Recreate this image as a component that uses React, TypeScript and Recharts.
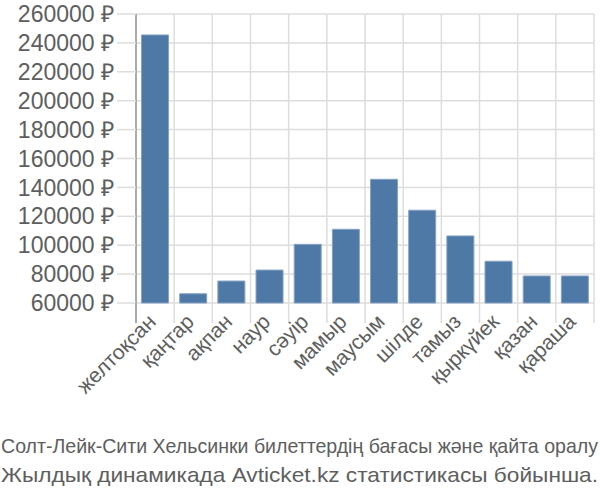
import React from 'react'
import { BarChart, Bar, XAxis, YAxis, CartesianGrid } from 'recharts'

const MONTHS = ['желтоқсан', 'қаңтар', 'ақпан', 'наур', 'сәуір', 'мамыр', 'маусым', 'шілде', 'тамыз', 'қыркүйек', 'қазан', 'қараша']
const PRICES = [245500, 66400, 75200, 82800, 100600, 111000, 145600, 124200, 106400, 88900, 78700, 78700]
const Y_TICKS = [60000, 80000, 100000, 120000, 140000, 160000, 180000, 200000, 220000, 240000, 260000]
const CAPTION = [
  'Солт-Лейк-Сити Хельсинки билеттердің бағасы және қайта оралу',
  'Жылдық динамикада Avticket.kz статистикасы бойынша.',
]

const data = MONTHS.map((month, i) => ({ month, price: PRICES[i] }))

const FONT = '"Liberation Sans", Arial, sans-serif'
const TEXT = '#5e5e5e'
const GRID = '#dddddd'
const LEFT = 136
const RIGHT = 594
const BAND = (RIGHT - LEFT) / MONTHS.length

const renderMonthTick = (props: any) => {
  const x = Number(props.x)
  const y = Number(props.y)
  const i = Number(props.index)
  const lx = x - BAND / 2
  return (
    <g key={`m-${i}`}>
      <line x1={lx} y1={y - 8} x2={lx} y2={y + 12} stroke={i === 0 ? '#aaaaaa' : GRID} strokeWidth={i === 0 ? 2 : 1.5} />
      {i === MONTHS.length - 1 && <line x1={x + BAND / 2} y1={y - 8} x2={x + BAND / 2} y2={y + 12} stroke={GRID} strokeWidth={1.5} />}
      <text
        x={x + 2}
        y={y + 12}
        transform={`rotate(-45, ${x + 2}, ${y + 12})`}
        textAnchor="end"
        fill={TEXT}
        fontSize={21}
        fontFamily={FONT}
      >
        {props.payload?.value}
      </text>
    </g>
  )
}

export default function App() {
  return (
    <div style={{ position: 'absolute', left: 0, top: 0, width: 600, height: 500, background: '#fff' }}>
      <BarChart
        width={600}
        height={500}
        data={data}
        margin={{ top: 14, right: 600 - RIGHT, bottom: 137, left: 0 }}
        barCategoryGap="14.5%"
      >
        <CartesianGrid
          stroke={GRID}
          strokeWidth={1.5}
          verticalCoordinatesGenerator={() => MONTHS.map((_, i) => LEFT + BAND * i).concat(RIGHT)}
        />
        <XAxis
          dataKey="month"
          height={60}
          interval={0}
          tickLine={false}
          axisLine={false}
          tick={renderMonthTick}
        />
        <YAxis
          width={LEFT}
          domain={[60000, 260000]}
          ticks={Y_TICKS}
          interval={0}
          tickSize={19}
          tickMargin={3}
          tickLine={{ stroke: GRID, strokeWidth: 1.5 }}
          axisLine={{ stroke: '#aaaaaa', strokeWidth: 2 }}
          tick={{ fill: TEXT, fontSize: 23, fontFamily: FONT }}
          tickFormatter={(v: number) => `${v} ₽`}
        />
        <Bar dataKey="price" fill="#4e78a6" stroke="#86a2c4" strokeWidth={1} isAnimationActive={false} />
      </BarChart>
      <svg width={600} height={60} style={{ position: 'absolute', left: 0, top: 430 }}>
        <text x={1} y={23} fill={TEXT} fontSize={21} fontFamily={FONT} textLength={597} lengthAdjust="spacingAndGlyphs">
          {CAPTION[0]}
        </text>
        <text x={1} y={52} fill={TEXT} fontSize={21} fontFamily={FONT} textLength={597} lengthAdjust="spacingAndGlyphs">
          {CAPTION[1]}
        </text>
      </svg>
    </div>
  )
}
